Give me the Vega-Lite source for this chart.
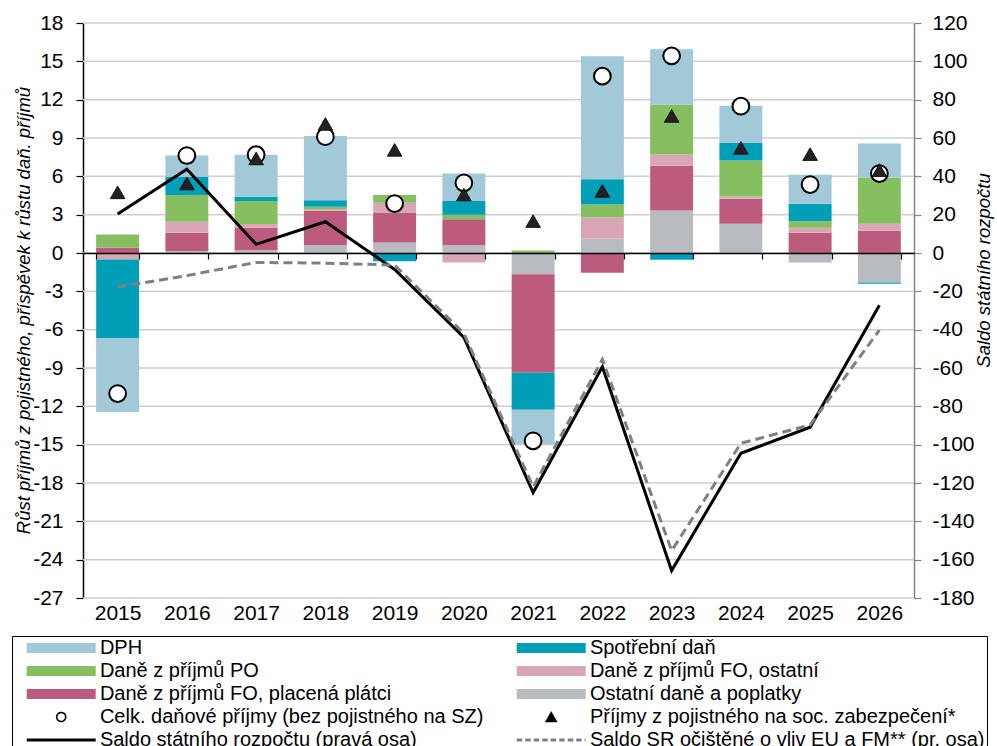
{
  "$schema": "https://vega.github.io/schema/vega-lite/v6.json",
  "autosize": {"type": "none"},
  "padding": {"left": 83, "top": 23, "right": 83, "bottom": 148},
  "width": 831,
  "height": 575,
  "config": {
    "font": "Liberation Sans",
    "view": {"stroke": null},
    "axis": {"labelColor": "black", "titleColor": "black", "labelFont": "Liberation Sans", "titleFont": "Liberation Sans"}
  },
  "datasets": {
    "gridvals": [
      {"tick": -27}, {"tick": -24}, {"tick": -21}, {"tick": -18}, {"tick": -15}, {"tick": -12}, {"tick": -9}, {"tick": -6},
      {"tick": -3}, {"tick": 0}, {"tick": 3}, {"tick": 6}, {"tick": 9}, {"tick": 12}, {"tick": 15}, {"tick": 18}
    ],
    "bars": [
      {"year": "2015", "series": "Daně z příjmů FO, placená plátci", "value": 0.43},
      {"year": "2015", "series": "Daně z příjmů FO, ostatní", "value": -0.5},
      {"year": "2015", "series": "Daně z příjmů PO", "value": 1.02},
      {"year": "2015", "series": "Spotřební daň", "value": -6.15},
      {"year": "2015", "series": "DPH", "value": -5.8},
      {"year": "2016", "series": "Ostatní daně a poplatky", "value": 0.15},
      {"year": "2016", "series": "Daně z příjmů FO, placená plátci", "value": 1.43},
      {"year": "2016", "series": "Daně z příjmů FO, ostatní", "value": 0.86},
      {"year": "2016", "series": "Daně z příjmů PO", "value": 2.09},
      {"year": "2016", "series": "Spotřební daň", "value": 1.43},
      {"year": "2016", "series": "DPH", "value": 1.67},
      {"year": "2017", "series": "Ostatní daně a poplatky", "value": 0.22},
      {"year": "2017", "series": "Daně z příjmů FO, placená plátci", "value": 1.75},
      {"year": "2017", "series": "Daně z příjmů FO, ostatní", "value": 0.29},
      {"year": "2017", "series": "Daně z příjmů PO", "value": 1.8},
      {"year": "2017", "series": "Spotřební daň", "value": 0.34},
      {"year": "2017", "series": "DPH", "value": 3.29},
      {"year": "2018", "series": "Ostatní daně a poplatky", "value": 0.61},
      {"year": "2018", "series": "Daně z příjmů FO, placená plátci", "value": 2.69},
      {"year": "2018", "series": "Daně z příjmů FO, ostatní", "value": 0.13},
      {"year": "2018", "series": "Daně z příjmů PO", "value": 0.18},
      {"year": "2018", "series": "Spotřební daň", "value": 0.52},
      {"year": "2018", "series": "DPH", "value": 5.02},
      {"year": "2019", "series": "Ostatní daně a poplatky", "value": 0.82},
      {"year": "2019", "series": "Daně z příjmů FO, placená plátci", "value": 2.32},
      {"year": "2019", "series": "Daně z příjmů FO, ostatní", "value": 0.79},
      {"year": "2019", "series": "Daně z příjmů PO", "value": 0.6},
      {"year": "2019", "series": "Spotřební daň", "value": -0.65},
      {"year": "2020", "series": "Ostatní daně a poplatky", "value": 0.61},
      {"year": "2020", "series": "Daně z příjmů FO, placená plátci", "value": 2.04},
      {"year": "2020", "series": "Daně z příjmů FO, ostatní", "value": -0.75},
      {"year": "2020", "series": "Daně z příjmů PO", "value": 0.34},
      {"year": "2020", "series": "Spotřební daň", "value": 1.07},
      {"year": "2020", "series": "DPH", "value": 2.16},
      {"year": "2021", "series": "Ostatní daně a poplatky", "value": -1.66},
      {"year": "2021", "series": "Daně z příjmů FO, placená plátci", "value": -7.71},
      {"year": "2021", "series": "Daně z příjmů PO", "value": 0.2},
      {"year": "2021", "series": "Spotřební daň", "value": -2.89},
      {"year": "2021", "series": "DPH", "value": -2.71},
      {"year": "2022", "series": "Ostatní daně a poplatky", "value": 1.11},
      {"year": "2022", "series": "Daně z příjmů FO, placená plátci", "value": -1.55},
      {"year": "2022", "series": "Daně z příjmů FO, ostatní", "value": 1.67},
      {"year": "2022", "series": "Daně z příjmů PO", "value": 1.02},
      {"year": "2022", "series": "Spotřební daň", "value": 1.98},
      {"year": "2022", "series": "DPH", "value": 9.62},
      {"year": "2023", "series": "Ostatní daně a poplatky", "value": 3.33},
      {"year": "2023", "series": "Daně z příjmů FO, placená plátci", "value": 3.49},
      {"year": "2023", "series": "Daně z příjmů FO, ostatní", "value": 0.91},
      {"year": "2023", "series": "Daně z příjmů PO", "value": 3.87},
      {"year": "2023", "series": "Spotřební daň", "value": -0.53},
      {"year": "2023", "series": "DPH", "value": 4.35},
      {"year": "2024", "series": "Ostatní daně a poplatky", "value": 2.28},
      {"year": "2024", "series": "Daně z příjmů FO, placená plátci", "value": 1.96},
      {"year": "2024", "series": "Daně z příjmů FO, ostatní", "value": 0.18},
      {"year": "2024", "series": "Daně z příjmů PO", "value": 2.82},
      {"year": "2024", "series": "Spotřební daň", "value": 1.36},
      {"year": "2024", "series": "DPH", "value": 2.92},
      {"year": "2025", "series": "Ostatní daně a poplatky", "value": -0.75},
      {"year": "2025", "series": "Daně z příjmů FO, placená plátci", "value": 1.58},
      {"year": "2025", "series": "Daně z příjmů FO, ostatní", "value": 0.39},
      {"year": "2025", "series": "Daně z příjmů PO", "value": 0.52},
      {"year": "2025", "series": "Spotřební daň", "value": 1.36},
      {"year": "2025", "series": "DPH", "value": 2.27},
      {"year": "2026", "series": "Ostatní daně a poplatky", "value": -2.3},
      {"year": "2026", "series": "Daně z příjmů FO, placená plátci", "value": 1.74},
      {"year": "2026", "series": "Daně z příjmů FO, ostatní", "value": 0.54},
      {"year": "2026", "series": "Daně z příjmů PO", "value": 3.6},
      {"year": "2026", "series": "Spotřební daň", "value": -0.1},
      {"year": "2026", "series": "DPH", "value": 2.69}
    ],
    "points": [
      {"year": "2015", "total": -11.0, "social": 4.75, "saldo": 20.3, "saldoSR": -17.7},
      {"year": "2016", "total": 7.63, "social": 5.44, "saldo": 43.7, "saldoSR": -11.8},
      {"year": "2017", "total": 7.69, "social": 7.4, "saldo": 4.5, "saldoSR": -4.9},
      {"year": "2018", "total": 9.1, "social": 10.1, "saldo": 16.3, "saldoSR": -5.3},
      {"year": "2019", "total": 3.87, "social": 8.07, "saldo": -8.6, "saldoSR": -6.3},
      {"year": "2020", "total": 5.49, "social": 4.58, "saldo": -44.0, "saldoSR": -42.0},
      {"year": "2021", "total": -14.7, "social": 2.5, "saldo": -125.0, "saldoSR": -122.0},
      {"year": "2022", "total": 13.84, "social": 4.86, "saldo": -59.3, "saldoSR": -55.5},
      {"year": "2023", "total": 15.43, "social": 10.73, "saldo": -165.7, "saldoSR": -155.3},
      {"year": "2024", "total": 11.49, "social": 8.23, "saldo": -104.5, "saldoSR": -99.3},
      {"year": "2025", "total": 5.36, "social": 7.74, "saldo": -90.9, "saldoSR": -89.7},
      {"year": "2026", "total": 6.22, "social": 6.48, "saldo": -27.3, "saldoSR": -40.2}
    ]
  },
  "layer": [
    {
      "data": {"name": "gridvals"},
      "mark": {"type": "rule", "color": "#cfcfcf", "strokeWidth": 1.5},
      "encoding": {
        "x": {"value": 0},
        "x2": {"value": "width"},
        "y": {"field": "tick", "type": "quantitative", "scale": {"domain": [-27, 18], "nice": false, "zero": false}, "axis": null}
      }
    },
    {
      "data": {"name": "bars"},
      "transform": [
        {"calculate": "indexof(['Ostatní daně a poplatky','Daně z příjmů FO, placená plátci','Daně z příjmů FO, ostatní','Daně z příjmů PO','Spotřební daň','DPH'], datum.series)", "as": "rank"}
      ],
      "mark": {"type": "bar"},
      "encoding": {
        "x": {
          "field": "year", "type": "nominal", "title": null,
          "scale": {"paddingInner": 0.38, "paddingOuter": 0.19},
          "axis": {
            "orient": "bottom", "offset": -345, "title": null, "grid": false,
            "domain": true, "domainColor": "black", "domainWidth": 1.5,
            "ticks": true, "tickBand": "extent", "tickSize": 6, "tickColor": "black", "tickWidth": 1.2,
            "labelPadding": 343, "labelFontSize": 21, "labelAngle": 0, "zindex": 1
          }
        },
        "y": {
          "field": "value", "type": "quantitative", "stack": "zero",
          "scale": {"domain": [-27, 18], "nice": false, "zero": false},
          "axis": {
            "orient": "left",
            "title": "Růst příjmů z pojistného, příspěvek k růstu daň. příjmů",
            "values": [-27, -24, -21, -18, -15, -12, -9, -6, -3, 0, 3, 6, 9, 12, 15, 18],
            "labelOverlap": false,
            "labelExpr": "replace(datum.label, '−', '-')",
            "grid": false,
            "domainColor": "black", "domainWidth": 1.5,
            "tickColor": "black", "tickSize": 7, "tickWidth": 1.2,
            "labelPadding": 13, "labelFontSize": 21,
            "titleFontSize": 18.5, "titleFontStyle": "italic", "titleFontWeight": "normal",
            "titleAngle": 270, "titleX": -50, "titleY": 287, "titleBaseline": "bottom", "titleAlign": "center"
          }
        },
        "order": {"field": "rank", "type": "quantitative", "sort": "ascending"},
        "color": {
          "field": "series", "type": "nominal",
          "scale": {
            "domain": ["DPH", "Daně z příjmů PO", "Daně z příjmů FO, placená plátci", "Celk. daňové příjmy (bez pojistného na SZ)", "Saldo státního rozpočtu (pravá osa)", "Spotřební daň", "Daně z příjmů FO, ostatní", "Ostatní daně a poplatky", "Příjmy z pojistného na soc. zabezpečení*", "Saldo SR očištěné o vliv EU a FM** (pr. osa)"],
            "range": ["#a1c9d7", "#86bf5f", "#bc5b7e", "#ffffff", "#000000", "#009eb7", "#d9a6b6", "#b8bbc0", "#000000", "#808080"]
          },
          "legend": {
            "orient": "none", "legendX": -71, "legendY": 613,
            "columns": 2, "title": null,
            "padding": 2, "rowPadding": 3, "columnPadding": 20,
            "strokeColor": "black",
            "labelFontSize": 20, "labelFont": "Liberation Sans", "labelColor": "black", "labelLimit": 700,
            "labelOffset": 28.7, "symbolOffset": 37.2, "symbolSize": 400,
            "encode": {
              "symbols": {
                "update": {
                  "size": {"value": 400},
                  "opacity": {"value": 1},
                  "shape": {"signal": "datum.value === 'Celk. daňové příjmy (bez pojistného na SZ)' ? 'M-0.45,0A0.45,0.45,0,1,1,0.45,0A0.45,0.45,0,1,1,-0.45,0Z' : datum.value === 'Příjmy z pojistného na soc. zabezpečení*' ? 'M0,-0.55L0.6,0.5L-0.6,0.5Z' : (datum.value === 'Saldo státního rozpočtu (pravá osa)' || datum.value === 'Saldo SR očištěné o vliv EU a FM** (pr. osa)') ? 'M-3.45,0L3.45,0' : 'M-3.45,-0.5L3.45,-0.5L3.45,0.5L-3.45,0.5Z'"},
                  "fill": {"signal": "datum.value === 'Celk. daňové příjmy (bez pojistného na SZ)' ? 'white' : datum.value === 'Příjmy z pojistného na soc. zabezpečení*' ? 'black' : (datum.value === 'Saldo státního rozpočtu (pravá osa)' || datum.value === 'Saldo SR očištěné o vliv EU a FM** (pr. osa)') ? 'transparent' : scale('color', datum.value)"},
                  "stroke": {"signal": "datum.value === 'Saldo SR očištěné o vliv EU a FM** (pr. osa)' ? '#808080' : (datum.value === 'Celk. daňové příjmy (bez pojistného na SZ)' || datum.value === 'Příjmy z pojistného na soc. zabezpečení*' || datum.value === 'Saldo státního rozpočtu (pravá osa)') ? 'black' : 'transparent'"},
                  "strokeWidth": {"signal": "datum.value === 'Celk. daňové příjmy (bez pojistného na SZ)' ? 1.6 : datum.value === 'Příjmy z pojistného na soc. zabezpečení*' ? 0.5 : (datum.value === 'Saldo státního rozpočtu (pravá osa)' || datum.value === 'Saldo SR očištěné o vliv EU a FM** (pr. osa)') ? 3 : 0"},
                  "strokeDash": {"signal": "datum.value === 'Saldo SR očištěné o vliv EU a FM** (pr. osa)' ? [5.5, 3] : [1, 0]"}
                }
              }
            }
          }
        }
      }
    },
    {
      "data": {"name": "points"},
      "mark": {"type": "line", "color": "black", "strokeWidth": 3},
      "encoding": {
        "x": {"field": "year", "type": "nominal", "title": null},
        "y": {
          "field": "saldo", "type": "quantitative",
          "scale": {"domain": [-180, 120], "nice": false, "zero": false},
          "axis": {
            "orient": "right", "title": "Saldo státního rozpočtu",
            "values": [-180, -160, -140, -120, -100, -80, -60, -40, -20, 0, 20, 40, 60, 80, 100, 120],
            "labelOverlap": false,
            "labelExpr": "replace(datum.label, '−', '-')",
            "grid": false, "domainColor": "#868686", "domainWidth": 1.5,
            "tickColor": "#868686", "tickSize": 7, "tickWidth": 1.2,
            "labelPadding": 11, "labelFontSize": 21,
            "titleFontSize": 18.5, "titleFontStyle": "italic", "titleFontWeight": "normal",
            "titleAngle": 270, "titleX": 79, "titleY": 247, "titleBaseline": "bottom", "titleAlign": "center"
          }
        }
      }
    },
    {
      "data": {"name": "points"},
      "mark": {"type": "line", "color": "#808080", "strokeWidth": 3, "strokeDash": [9, 5]},
      "encoding": {
        "x": {"field": "year", "type": "nominal", "title": null},
        "y": {"field": "saldoSR", "type": "quantitative", "scale": {"domain": [-180, 120], "nice": false, "zero": false}, "axis": null}
      }
    },
    {
      "data": {"name": "points"},
      "mark": {"type": "point", "shape": "circle", "filled": true, "fill": "white", "stroke": "black", "strokeWidth": 2, "size": 280, "opacity": 1},
      "encoding": {
        "x": {"field": "year", "type": "nominal", "title": null},
        "y": {"field": "total", "type": "quantitative", "scale": {"domain": [-27, 18], "nice": false, "zero": false}, "axis": null}
      }
    },
    {
      "data": {"name": "points"},
      "mark": {"type": "point", "shape": "triangle-up", "filled": true, "fill": "#222222", "stroke": "black", "strokeWidth": 0.8, "size": 215, "opacity": 1},
      "encoding": {
        "x": {"field": "year", "type": "nominal", "title": null},
        "y": {"field": "social", "type": "quantitative", "scale": {"domain": [-27, 18], "nice": false, "zero": false}, "axis": null}
      }
    }
  ],
  "resolve": {"scale": {"y": "independent"}}
}
